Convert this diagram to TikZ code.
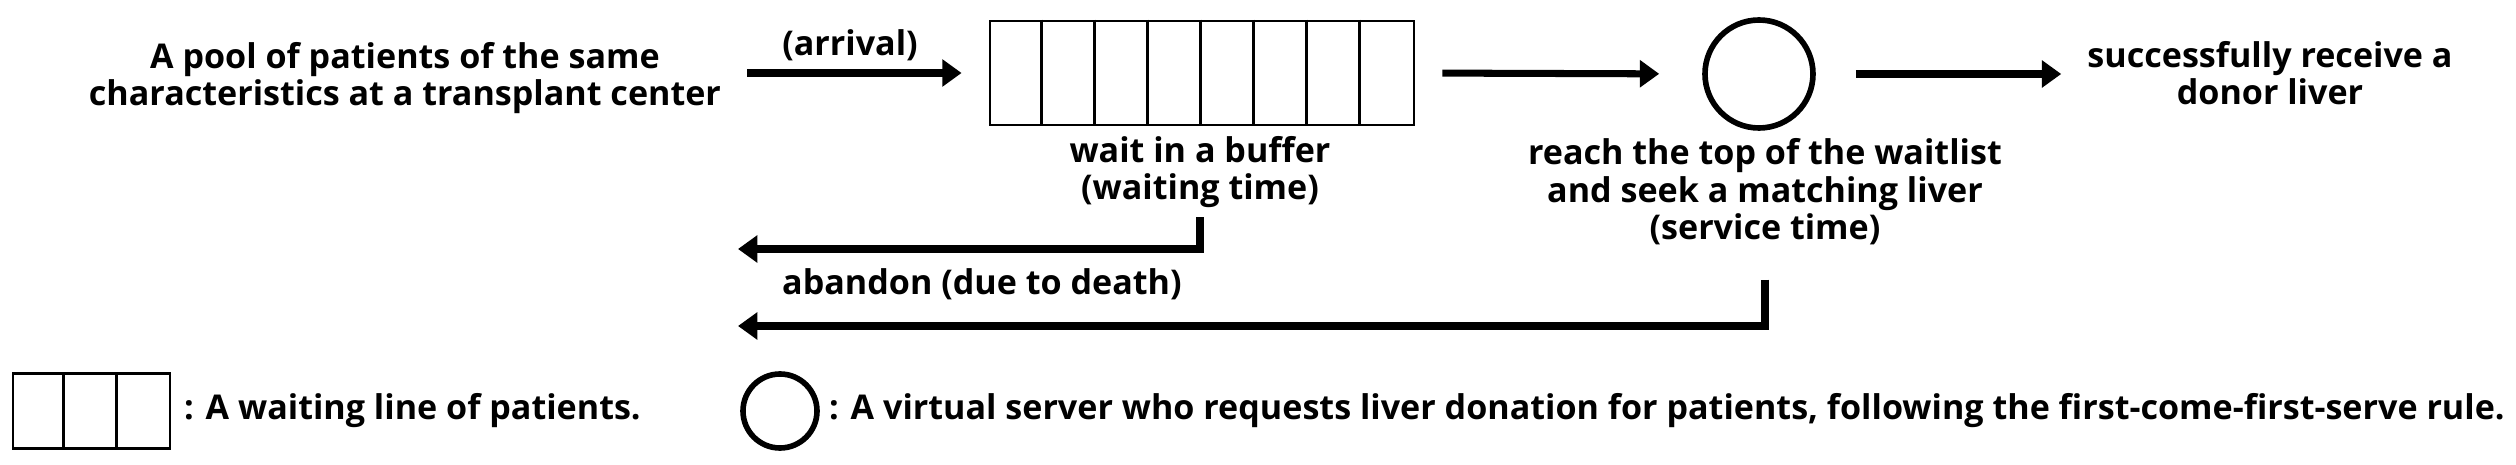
\documentclass[tikz,border=0pt]{standalone}
\usepackage{fontspec}
\setmainfont{Open Sans}
\usetikzlibrary{arrows.meta,positioning}

\tikzset{
  lbl/.style={align=center,font=\bfseries\fontsize{9.7}{10.7}\selectfont,inner sep=1pt},
  flow/.style={line width=2pt,-{Triangle[length=5.5pt,width=7.5pt]}},
  cellbox/.style={draw,line width=.8pt,rectangle,inner sep=0pt},
  server/.style={draw,circle,line width=1.6pt,inner sep=0pt}
}

\begin{document}
\begin{tikzpicture}
\useasboundingbox (0,0) rectangle (25.16,-4.65);
% main line
\node[lbl] (pool) at (4.05,-0.78) {A pool of patients of the same\\characteristics at a transplant center};
\node[cellbox,minimum width=4.24cm,minimum height=1.04cm] (buffer) at (12.02,-0.73) {};
\foreach \i in {1,...,7}
  \draw[line width=.8pt] ([xshift=\i*0.53cm]buffer.north west) -- ([xshift=\i*0.53cm]buffer.south west);
\node[server,minimum size=1.08cm] (srv) at (17.59,-0.74) {};
\node[lbl] (done) at (22.70,-0.73) {successfully receive a\\donor liver};
\node[lbl] (arr) at (8.50,-0.45) {(arrival)};
\node[lbl] (bufftxt) at (12.00,-1.72) {wait in a buffer\\(waiting time)};
\node[lbl] (srvtxt) at (17.65,-1.92) {reach the top of the waitlist\\and seek a matching liver\\(service time)};
\node[lbl,anchor=west] (aband) at (7.78,-2.84) {abandon (due to death)};
\coordinate (lost1) at (7.38,-2.49);
\coordinate (lost2) at (7.38,-3.26);
\draw[flow,shorten <=0.22cm,shorten >=0.27cm] (pool.east |- buffer.west) -- (buffer.west);
\draw[flow,shorten <=0.27cm,shorten >=0.43cm] (buffer.east) -- (srv.west);
\draw[flow,shorten <=0.40cm,shorten >=0.22cm] (srv.east) -- (done.west |- srv.east);
\draw[flow,shorten <=0.05cm] (bufftxt.south) |- (lost1);
\draw[flow,shorten <=0.30cm] (srvtxt.south) |- (lost2);
% legend
\node[cellbox,minimum width=1.57cm,minimum height=0.75cm] (legbuf) at (0.915,-4.11) {};
\foreach \i in {1,2}
  \draw[line width=.8pt] ([xshift=\i*0.523cm]legbuf.north west) -- ([xshift=\i*0.523cm]legbuf.south west);
\node[lbl,anchor=west] (legbuftxt) at (1.80,-4.11) {: A waiting line of patients.};
\node[server,minimum size=0.74cm] (legsrv) at (7.80,-4.11) {};
\node[lbl,anchor=west] (legsrvtxt) at (8.25,-4.11) {: A virtual server who requests liver donation for patients, following the first-come-first-serve rule.};
\end{tikzpicture}
\end{document}
